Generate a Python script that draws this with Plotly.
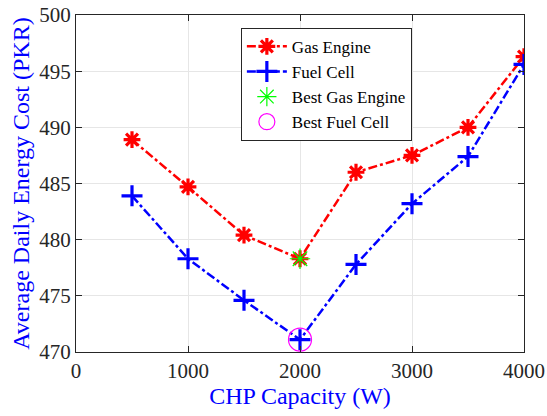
import plotly.graph_objects as go

capacity = [500, 1000, 1500, 2000, 2500, 3000, 3500, 4000]
gas_engine = [488.9, 484.7, 480.4, 478.3, 486.0, 487.5, 490.0, 496.3]
fuel_cell = [483.9, 478.3, 474.6, 471.1, 477.8, 483.2, 487.4, 495.6]
best_gas_x = [2000]
best_gas_y = [478.3]
best_fc_x = [2000]
best_fc_y = [471.1]

font_family = "Liberation Serif"

fig = go.Figure()
fig.add_trace(go.Scatter(
    x=capacity, y=gas_engine, name="Gas Engine", mode="lines+markers",
    line=dict(color="red", width=2.5, dash="dashdot"),
    marker=dict(symbol="asterisk-open", size=14, color="red", line=dict(color="red", width=3.2)),
))
fig.add_trace(go.Scatter(
    x=capacity, y=fuel_cell, name="Fuel Cell", mode="lines+markers",
    line=dict(color="blue", width=2.5, dash="dashdot"),
    marker=dict(symbol="cross-thin-open", size=15, color="blue", line=dict(color="blue", width=3.2)),
))
fig.add_trace(go.Scatter(
    x=best_gas_x, y=best_gas_y, name="Best Gas Engine", mode="markers",
    marker=dict(symbol="asterisk-open", size=17, color="#00ff00", line=dict(color="#00ff00", width=1.2)),
))
fig.add_trace(go.Scatter(
    x=best_fc_x, y=best_fc_y, name="Best Fuel Cell", mode="markers",
    marker=dict(symbol="circle-open", size=23, color="magenta", line=dict(color="magenta", width=1.2)),
))

axis_common = dict(
    showline=True, linecolor="#262626", linewidth=1.2, mirror="ticks",
    ticks="inside", ticklen=6, tickcolor="#262626",
    showgrid=True, gridcolor="#e6e6e6", gridwidth=1, zeroline=False,
    tickfont=dict(family=font_family, size=21, color="#262626"),
)

fig.update_layout(
    width=547, height=416,
    margin=dict(l=76, r=23, t=15, b=64, autoexpand=False),
    paper_bgcolor="white", plot_bgcolor="white",
    font=dict(family=font_family),
    xaxis=dict(range=[0, 4000], tickvals=[0, 1000, 2000, 3000, 4000],
               title=dict(text="CHP Capacity (W)", font=dict(family=font_family, size=24, color="blue"), standoff=4),
               **axis_common),
    yaxis=dict(range=[470, 500], tickvals=[470, 475, 480, 485, 490, 495, 500],
               title=dict(text="Average Daily Energy Cost (PKR)", font=dict(family=font_family, size=24, color="blue"), standoff=2),
               **axis_common),
    legend=dict(x=0.368, y=0.962, xanchor="left", yanchor="top",
                bordercolor="#262626", borderwidth=1, bgcolor="white",
                font=dict(family=font_family, size=17, color="black"),
                tracegroupgap=0, itemwidth=40),
    showlegend=True,
)

fig.write_html("out.html")
